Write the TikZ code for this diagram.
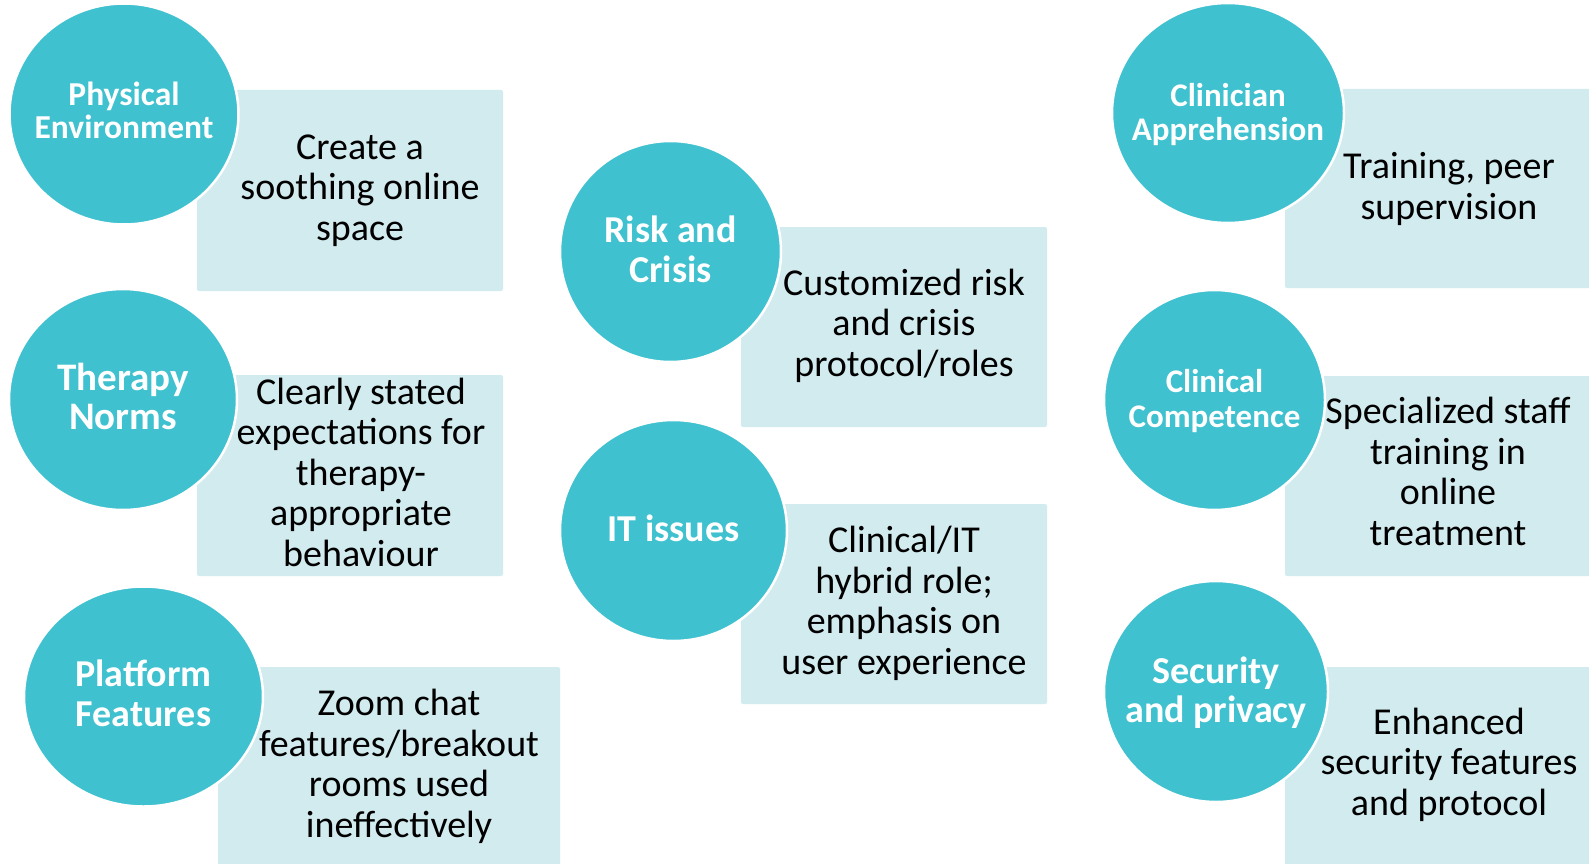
\documentclass[tikz,border=0pt]{standalone}
\usepackage{fontspec}
\setmainfont{Carlito}
\usetikzlibrary{shapes.geometric}
\definecolor{teal}{HTML}{3FC1CF}
\definecolor{paleblue}{HTML}{D2EBEF}
\tikzset{
  panel/.style={fill=paleblue, draw=none, rounded corners=2pt, inner sep=0pt},
  topic/.style={ellipse, fill=teal, draw=white, line width=2.5pt, inner sep=0pt},
  topictext/.style={anchor=base, align=center, inner sep=0pt, text=white},
  detail/.style={anchor=base, align=center, inner sep=0pt, text=black,
    font=\fontsize{38}{40.5}\selectfont},
}
\newcommand{\panelbox}[3]{% name, top-left, bottom-right
  \path[panel] #2 rectangle #3 coordinate[pos=0.5] (#1);}
\begin{document}
\begin{tikzpicture}[x=1pt, y=-1pt]
\useasboundingbox (0,0) rectangle (1589,864);
\clip (0,0) rectangle (1589,864);

% pale panels
\panelbox{p1}{(197,90)}{(503,291)}
\panelbox{p2}{(197,375)}{(503,576)}
\panelbox{p3}{(218,667)}{(560,880)}
\panelbox{p4}{(741,227)}{(1047,427)}
\panelbox{p5}{(741,504)}{(1047,704)}
\panelbox{p6}{(1285,89)}{(1600,288)}
\panelbox{p7}{(1285,376)}{(1600,576)}
\panelbox{p8}{(1285,667)}{(1600,880)}

% panel texts (placed at the baseline of their last line)
\node[detail] (t1) at (360,240) {Create a\\soothing online\\space};
\node[detail] (t2) at (361,566) {Clearly stated\\expectations for\\therapy-\\appropriate\\behaviour};
\node[detail] (t3) at (399,837) {Zoom chat\\features/breakout\\rooms used\\ineffectively};
\node[detail] (t4) at (904,376) {Customized risk\\and crisis\\protocol/roles};
\node[detail] (t5) at (904,674) {Clinical/IT\\hybrid role;\\emphasis on\\user experience};
\node[detail] (t6) at (1449,219) {Training, peer\\supervision};
\node[detail] (t7) at (1448,545) {Specialized staff\\training in\\online\\treatment};
\node[detail] (t8) at (1449,815) {Enhanced\\security features\\and protocol};

% topic circles
\node[topic, minimum width=229pt, minimum height=221pt] (c1) at (124,114) {};
\node[topic, minimum width=228pt, minimum height=221pt] (c2) at (123,399.5) {};
\node[topic, minimum width=239pt, minimum height=220pt] (c3) at (143.5,696.5) {};
\node[topic, minimum width=221pt, minimum height=221pt] (c4) at (670.5,251.5) {};
\node[topic, minimum width=227pt, minimum height=221pt] (c5) at (673.5,530.5) {};
\node[topic, minimum width=232pt, minimum height=220pt] (c6) at (1228,113) {};
\node[topic, minimum width=221pt, minimum height=220pt] (c7) at (1214.5,400) {};
\node[topic, minimum width=224pt, minimum height=221pt] (c8) at (1216,691.5) {};

% topic titles (placed at the baseline of their last line)
\node[topictext, font=\bfseries\fontsize{33.5}{33}\selectfont] (l1) at (c1.center |- 0,139) {Physical\\Environment};
\node[topictext, font=\bfseries\fontsize{39}{39}\selectfont] (l2) at (c2.center |- 0,429) {Therapy\\Norms};
\node[topictext, font=\bfseries\fontsize{38}{40}\selectfont] (l3) at (c3.center |- 0,726) {Platform\\Features};
\node[topictext, font=\bfseries\fontsize{38}{40}\selectfont] (l4) at (c4.center |- 0,282) {Risk and\\Crisis};
\node[topictext, font=\bfseries\fontsize{38}{40}\selectfont] (l5) at (c5.center |- 0,541) {IT issues};
\node[topictext, font=\bfseries\fontsize{33}{34}\selectfont] (l6) at (c6.center |- 0,140) {Clinician\\Apprehension};
\node[topictext, font=\bfseries\fontsize{33}{35}\selectfont] (l7) at (c7.center |- 0,427) {Clinical\\Competence};
\node[topictext, font=\bfseries\fontsize{38}{39}\selectfont] (l8) at (c8.center |- 0,722) {Security\\and privacy};
\end{tikzpicture}
\end{document}
